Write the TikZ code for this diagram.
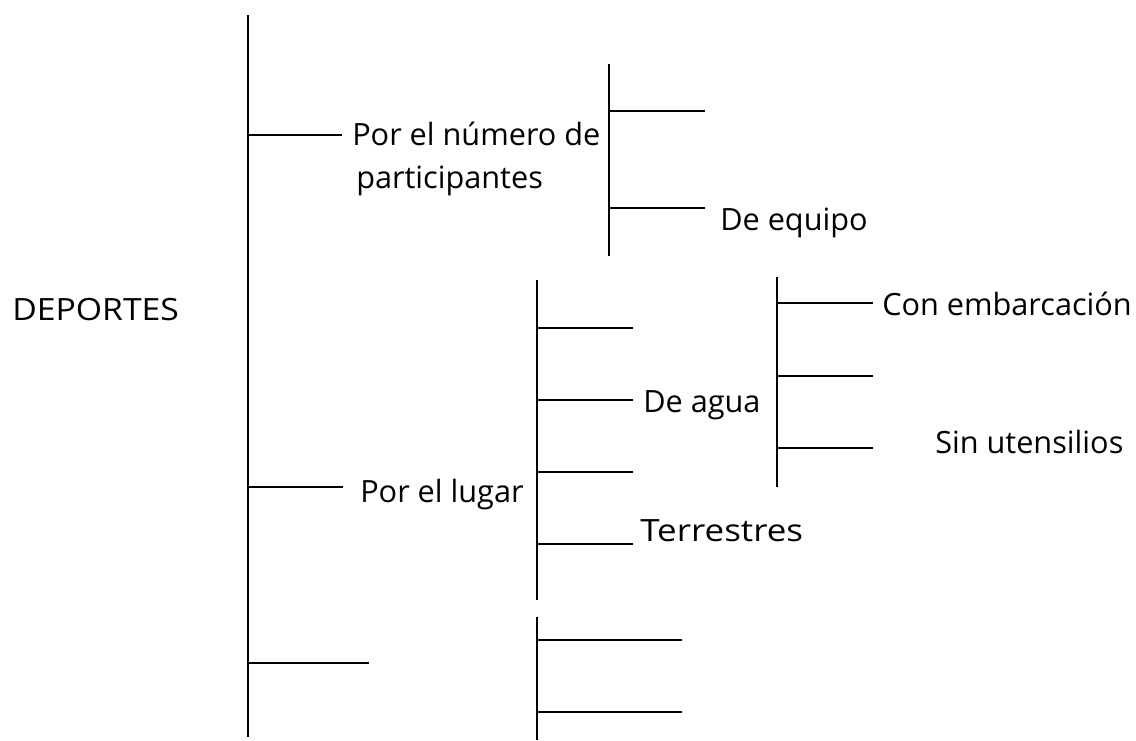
\documentclass[tikz,border=0pt]{standalone}
\usepackage{fontspec}
\setmainfont{Open Sans}
\begin{document}
\begin{tikzpicture}[x=0.75pt,y=-0.75pt,
  vline/.style={line width=1.8pt},
  hline/.style={line width=1.2pt},
  lbl/.style={anchor=base west, inner sep=0pt, font=\fontsize{23}{32}\selectfont}]
\useasboundingbox (0,0) rectangle (1136,740);
% coordinates
\coordinate (mT) at (248,15);  \coordinate (mB) at (248,737);
\coordinate (m1) at (248,135); \coordinate (e1) at (342,135);
\coordinate (m2) at (248,487); \coordinate (e2) at (343,487);
\coordinate (m3) at (248,663); \coordinate (e3) at (369,663);
\coordinate (pT) at (609,64);  \coordinate (pB) at (609,256);
\coordinate (p1) at (609,111); \coordinate (pe1) at (705,111);
\coordinate (p2) at (609,208); \coordinate (pe2) at (705,208);
\coordinate (lT) at (537,280); \coordinate (lB) at (537,600);
\coordinate (l1) at (537,328); \coordinate (le1) at (633,328);
\coordinate (l2) at (537,400); \coordinate (le2) at (633,400);
\coordinate (l3) at (537,472); \coordinate (le3) at (633,472);
\coordinate (l4) at (537,544); \coordinate (le4) at (633,544);
\coordinate (aT) at (777,277); \coordinate (aB) at (777,487);
\coordinate (a1) at (777,303); \coordinate (ae1) at (873,303);
\coordinate (a2) at (777,376); \coordinate (ae2) at (873,376);
\coordinate (a3) at (777,448); \coordinate (ae3) at (873,448);
\coordinate (bT) at (537,617); \coordinate (bB) at (537,740);
\coordinate (b1) at (537,640); \coordinate (be1) at (682,640);
\coordinate (b2) at (537,712); \coordinate (be2) at (682,712);
% lines
\draw[vline] (mT) -- (mB);
\draw[hline] (m1) -- (e1);
\draw[hline] (m2) -- (e2);
\draw[hline] (m3) -- (e3);
\draw[vline] (pT) -- (pB);
\draw[hline] (p1) -- (pe1);
\draw[hline] (p2) -- (pe2);
\draw[vline] (lT) -- (lB);
\draw[hline] (l1) -- (le1);
\draw[hline] (l2) -- (le2);
\draw[hline] (l3) -- (le3);
\draw[hline] (l4) -- (le4);
\draw[vline] (aT) -- (aB);
\draw[hline] (a1) -- (ae1);
\draw[hline] (a2) -- (ae2);
\draw[hline] (a3) -- (ae3);
\draw[vline] (bT) -- (bB);
\draw[hline] (b1) -- (be1);
\draw[hline] (b2) -- (be2);
% labels
\node[lbl, xscale=1.1, transform shape] (dep) at (12,320) {DEPORTES};
\node[lbl] (num1) at (352,145) {Por el número de};
\node[lbl] (num2) at (356,188) {participantes};
\node[lbl] (equipo) at (720,230) {De equipo};
\node[lbl] (emb) at (882,315) {Con embarcación};
\node[lbl] (agua) at (643,412) {De agua};
\node[lbl] (sin) at (935,453) {Sin utensilios};
\node[lbl] (lugar) at (360,502) {Por el lugar};
\node[lbl, xscale=1.14, transform shape] (terr) at (640,541) {Terrestres};
\end{tikzpicture}
\end{document}
